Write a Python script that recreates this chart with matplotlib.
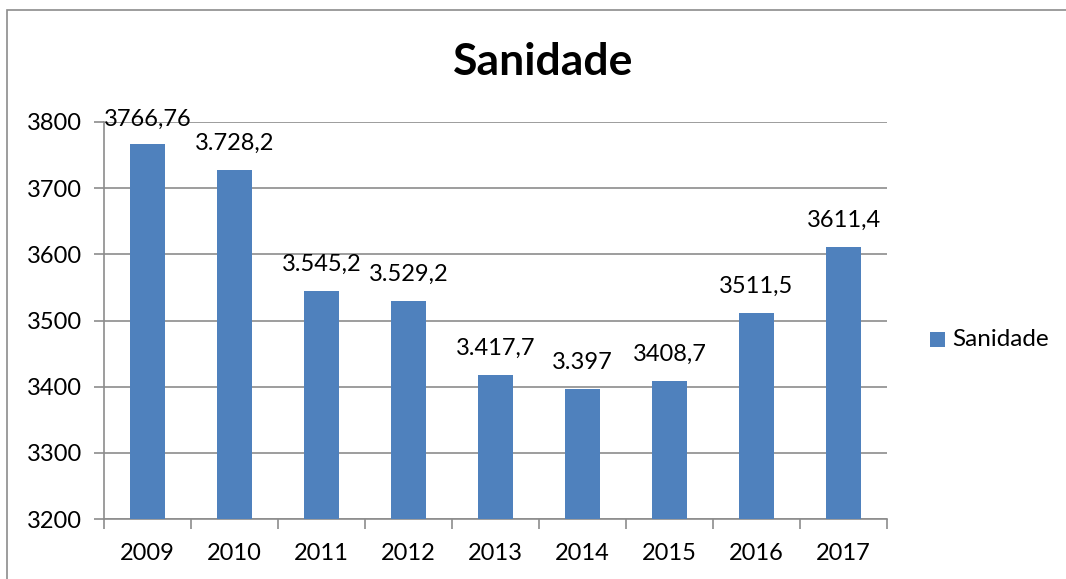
import matplotlib
matplotlib.use("Agg")
import matplotlib.pyplot as plt
from matplotlib.patches import Rectangle

years = ["2009", "2010", "2011", "2012", "2013", "2014", "2015", "2016", "2017"]
values = [3766.76, 3728.2, 3545.2, 3529.2, 3417.7, 3397, 3408.7, 3511.5, 3611.4]
labels = ["3766,76", "3.728,2", "3.545,2", "3.529,2", "3.417,7", "3.397", "3408,7", "3511,5", "3611,4"]
yticks = [3200, 3300, 3400, 3500, 3600, 3700, 3800]
series_name = "Sanidade"

plt.rcParams['font.family'] = ['Lato', 'DejaVu Sans']
W, H = 1066, 579
fig = plt.figure(figsize=(W / 100, H / 100), dpi=100)
fig.patch.set_facecolor('white')

# outer chart frame
fig.add_artist(Rectangle((7 / W, -0.05), 1.2, (H - 10) / H + 0.05, transform=fig.transFigure,
                         fill=False, edgecolor='#8c8c8c', linewidth=1.2))

ax = fig.add_axes([104 / W, (H - 519) / H, (887 - 104) / W, (519 - 122) / H])
bar_color = '#4F81BD'
x = list(range(len(years)))
ax.bar(x, [v - 3200 for v in values], bottom=3200, width=0.4, color=bar_color, zorder=3, label=series_name)
ax.set_xlim(-0.5, len(years) - 0.5)
ax.set_ylim(3200, 3800)
ax.set_yticks(yticks)
ax.set_yticklabels([str(t) for t in yticks], fontsize=17)
ax.set_xticks(x)
ax.set_xticklabels(years, fontsize=17)
ax.set_xticks([i - 0.5 for i in range(len(years) + 1)], minor=True)
ax.tick_params(axis='x', which='major', length=0, pad=17)
ax.tick_params(axis='x', which='minor', length=7, color='#8c8c8c', width=1.2, direction='out')
ax.tick_params(axis='y', length=7, color='#8c8c8c', width=1.2, direction='out', pad=9)
ax.grid(axis='y', color='#8c8c8c', linewidth=1.2, zorder=0)
for s in ['top', 'right']:
    ax.spines[s].set_visible(False)
for s in ['left', 'bottom']:
    ax.spines[s].set_color('#8c8c8c')
    ax.spines[s].set_linewidth(1.2)

for i, (v, lab) in enumerate(zip(values, labels)):
    if i == 0:
        ax.annotate(lab, (i, 3800), xytext=(0, 2), textcoords='offset points',
                    ha='center', va='center', fontsize=17, zorder=4)
    else:
        ax.annotate(lab, (i, v), xytext=(0, 19), textcoords='offset points',
                    ha='center', va='center', fontsize=17, zorder=4)

fig.text(543 / W, 1 - 62 / H, "Sanidade", ha='center', va='center', fontsize=32, fontweight='bold')

# legend
fig.add_artist(Rectangle((930 / W, (H - 347) / H), 15 / W, 15 / H, transform=fig.transFigure,
                         facecolor=bar_color, edgecolor='none'))
fig.text(952 / W, 1 - 339 / H, series_name, ha='left', va='center', fontsize=17.5)

fig.savefig("out.png", dpi=100)
